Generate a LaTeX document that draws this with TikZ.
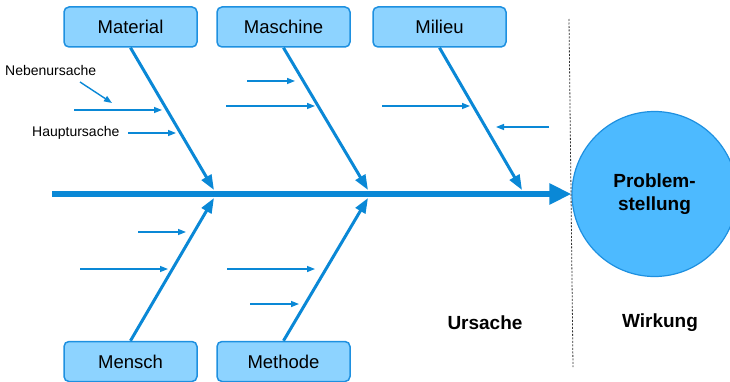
\documentclass[tikz,border=0pt]{standalone}
\usepackage{fontspec}
\setmainfont{Liberation Sans}
\usetikzlibrary{arrows.meta}
\definecolor{fbline}{RGB}{10,136,214}
\definecolor{fbbox}{RGB}{141,211,255}
\definecolor{fbboxdraw}{RGB}{30,144,224}
\definecolor{fbcirc}{RGB}{77,186,255}
\tikzset{
  catbox/.style={draw=fbboxdraw, fill=fbbox, line width=1.5pt, rounded corners=5pt,
    minimum width=133pt, minimum height=40pt, inner sep=0pt,
    font=\fontsize{18.5}{22}\selectfont},
  bone/.style={draw=fbline, line width=3pt, -{Triangle[length=15pt,width=11pt]}},
  spine/.style={draw=fbline, line width=6pt, -{Triangle[length=22pt,width=20pt]}},
  twig/.style={draw=fbline, line width=1.4pt, -{Triangle[length=8pt,width=6pt]}},
  smalltext/.style={font=\fontsize{14}{16}\selectfont, inner sep=0pt},
  bigbold/.style={font=\bfseries\fontsize{19}{23}\selectfont, inner sep=0pt, align=center},
}
\begin{document}
\begin{tikzpicture}[x=1pt,y=-1pt]
\useasboundingbox (0,0) rectangle (730,382);
\begin{scope}
\clip (0,0) rectangle (730,382);
% problem circle
\node[circle, draw=fbboxdraw, fill=fbcirc, line width=1.2pt, minimum size=165pt, inner sep=0pt] (prob) at (654.5,194) {};
\node[bigbold] (probtxt) at (654.5,194) {Problem-\\stellung};
% boxes
\node[catbox] (mat) at (130.5,27) {Material};
\node[catbox] (masch) at (283.5,27) {Maschine};
\node[catbox] (mil) at (439.5,27) {Milieu};
\node[catbox] (men) at (130.5,361.5) {Mensch};
\node[catbox] (meth) at (283.5,361.5) {Methode};
% dashed separator
\coordinate (dtop) at (569,19);
\coordinate (dbot) at (573,367);
\draw[black!80, line width=0.8pt, dash pattern=on 2pt off 1.5pt] (dtop) -- (dbot);
% spine
\coordinate (sp0) at (52,194);
\draw[spine] (sp0) -- (prob.west);
% bones
\coordinate (tmat) at (214,190);
\coordinate (tmasch) at (368,190);
\coordinate (tmil) at (522,190);
\coordinate (tmen) at (214,198);
\coordinate (tmeth) at (368,198);
\draw[bone] (mat.south) -- (tmat);
\draw[bone] (masch.south) -- (tmasch);
\draw[bone] (mil.south) -- (tmil);
\draw[bone] (men.north) -- (tmen);
\draw[bone] (meth.north) -- (tmeth);
% labels
\node[smalltext, anchor=west] (neben) at (5,70) {Nebenursache};
\node[smalltext, anchor=west] (haupt) at (32,133) {Hauptursache};
% twigs
\coordinate (n1a) at (80,82);  \coordinate (n1b) at (112,103);
\draw[twig] (n1a) -- (n1b);
\coordinate (a1a) at (74,110);  \coordinate (a1b) at (162,110);
\draw[twig] (a1a) -- (a1b);
\coordinate (a2a) at (128,133); \coordinate (a2b) at (176,133);
\draw[twig] (a2a) -- (a2b);
\coordinate (b1a) at (247,81);  \coordinate (b1b) at (295,81);
\draw[twig] (b1a) -- (b1b);
\coordinate (b2a) at (226,106); \coordinate (b2b) at (315,106);
\draw[twig] (b2a) -- (b2b);
\coordinate (c1a) at (382,106); \coordinate (c1b) at (470,106);
\draw[twig] (c1a) -- (c1b);
\coordinate (c2a) at (549,127); \coordinate (c2b) at (496,127);
\draw[twig] (c2a) -- (c2b);
\coordinate (d1a) at (138,232); \coordinate (d1b) at (186,232);
\draw[twig] (d1a) -- (d1b);
\coordinate (d2a) at (80,269);  \coordinate (d2b) at (168,269);
\draw[twig] (d2a) -- (d2b);
\coordinate (e1a) at (227,269); \coordinate (e1b) at (315,269);
\draw[twig] (e1a) -- (e1b);
\coordinate (e2a) at (250,304); \coordinate (e2b) at (299,304);
\draw[twig] (e2a) -- (e2b);
% section labels
\node[bigbold] (urs) at (485,323) {Ursache};
\node[bigbold] (wirk) at (660,323) {Wirkung};
\end{scope}
\end{tikzpicture}
\end{document}
